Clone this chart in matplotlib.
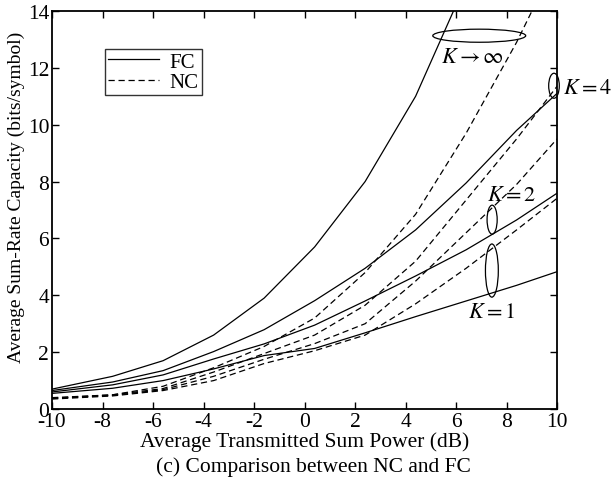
import matplotlib
matplotlib.use("Agg")
import matplotlib.pyplot as plt
from matplotlib.patches import Ellipse

plt.rcParams['font.family'] = ['Liberation Serif', 'DejaVu Serif']
plt.rcParams['mathtext.fontset'] = 'stix'
plt.rcParams['axes.unicode_minus'] = False

# transmitted power grid (dB)
power = [-10, -7.6, -5.6, -3.6, -1.6, 0.4, 2.4, 4.4, 6.4, 8.4, 10]

# FC (solid)
fc_inf = [0.70, 1.15, 1.70, 2.60, 3.90, 5.70, 8.00, 11.0, 15.0, 19.5, 23.0]
fc_k4 = [0.65, 0.95, 1.35, 2.02, 2.79, 3.81, 4.95, 6.30, 7.95, 9.80, 11.1]
fc_k2 = [0.60, 0.85, 1.20, 1.76, 2.29, 2.95, 3.80, 4.68, 5.60, 6.65, 7.59]
fc_k1 = [0.55, 0.73, 1.00, 1.41, 1.88, 2.13, 2.68, 3.25, 3.80, 4.35, 4.83]

# NC (dashed)
nc_inf = [0.40, 0.50, 0.80, 1.45, 2.20, 3.20, 4.80, 6.85, 9.70, 12.9, 15.8]
nc_k4 = [0.38, 0.50, 0.72, 1.30, 1.95, 2.60, 3.65, 5.20, 7.35, 9.50, 11.35]
nc_k2 = [0.37, 0.48, 0.68, 1.15, 1.75, 2.30, 3.00, 4.50, 6.20, 7.90, 9.50]
nc_k1 = [0.35, 0.46, 0.65, 1.00, 1.60, 2.05, 2.60, 3.70, 4.95, 6.30, 7.41]

fig = plt.figure(figsize=(6.14, 4.85), dpi=100)
ax = fig.add_axes([0.0847, 0.1546, 0.8225, 0.8207])

lw = 0.9
for i, y in enumerate([fc_inf, fc_k4, fc_k2, fc_k1]):
    ax.plot(power, y, color='k', lw=lw, label='FC' if i == 0 else None)
for i, y in enumerate([nc_inf, nc_k4, nc_k2, nc_k1]):
    ax.plot(power, y, color='k', lw=lw, dashes=(5, 3), label='NC' if i == 0 else None)

ax.set_xlim(-10, 10)
ax.set_ylim(0, 14)
ax.set_xticks(range(-10, 11, 2))
ax.set_yticks(range(0, 15, 2))
ax.tick_params(direction='in', top=True, right=True, length=5, width=1,
               labelsize=15.5, pad=2)
for s in ax.spines.values():
    s.set_linewidth(1.3)

ax.set_xlabel('Average Transmitted Sum Power (dB)', fontsize=15.5, labelpad=0)
ax.set_ylabel('Average Sum-Rate Capacity (bits/symbol)', fontsize=14)
ax.yaxis.set_label_coords(-0.053, 0.535)
fig.text(0.51, 0.037, '(c) Comparison between NC and FC', fontsize=15.5, ha='center', va='center')

leg = ax.legend(loc='upper left', bbox_to_anchor=(0.105, 0.905), fontsize=15,
                frameon=True, fancybox=False, handlelength=2.45, borderpad=0.15,
                labelspacing=0.05, handletextpad=0.5, borderaxespad=0)
leg.get_frame().set_edgecolor('k')
leg.get_frame().set_linewidth(1.0)

# ellipses grouping the curves
ells = [(6.92, 13.13, 3.68, 0.46), (9.88, 11.37, 0.42, 0.88),
        (7.43, 6.66, 0.40, 1.02), (7.42, 4.87, 0.51, 1.87)]
for cx, cy, w, h in ells:
    ax.add_patch(Ellipse((cx, cy), w, h, fill=False, ec='k', lw=0.9, clip_on=False))

ax.text(5.4, 12.38, r'$K \rightarrow \infty$', fontsize=16, va='center')
ax.text(10.25, 11.26, r'$K = 4$', fontsize=16, va='center', clip_on=False)
ax.text(7.23, 7.5, r'$K = 2$', fontsize=16, va='center')
ax.text(6.48, 3.41, r'$K =1$', fontsize=16, va='center')

fig.savefig('out.png', dpi=100)
